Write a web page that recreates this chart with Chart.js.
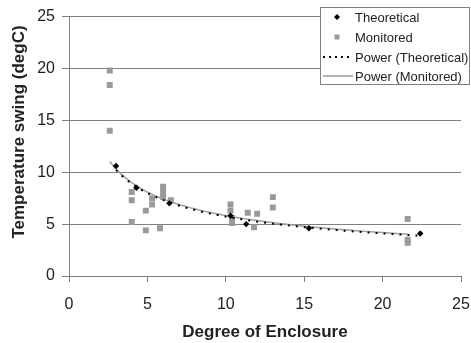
<!DOCTYPE html>
<html>
<head>
	<title>Temperature swing vs Degree of Enclosure</title>
	<style>
		body { margin: 0; background: #fff; }
		#wrap { width: 471px; height: 343px; }
	</style>
</head>
<body>
	<div id="wrap"><canvas id="chart" width="471" height="343"></canvas></div>

	<script src="https://cdn.jsdelivr.net/npm/chart.js@4/dist/chart.umd.min.js"></script>
	<script type="text/javascript">

		// values
		var theoX = [3.0, 4.3, 6.4, 10.3, 11.3, 15.3, 22.4];
		var theoY = [10.6, 8.5, 7.0, 5.8, 5.0, 4.6, 4.1];

		var monX = [2.6, 2.6, 2.6, 4.0, 4.0, 4.0, 4.9, 4.9, 5.3, 5.3, 5.8, 6.0, 6.0, 6.0, 6.5,
			10.3, 10.3, 10.4, 10.4, 11.4, 11.8, 12.0, 13.0, 13.0, 21.6, 21.6, 21.6];
		var monY = [19.8, 18.4, 14.0, 8.1, 7.3, 5.2, 6.3, 4.4, 7.5, 6.9, 4.6, 8.6, 8.1, 7.6, 7.3,
			6.9, 6.3, 5.6, 5.1, 6.1, 4.7, 6.0, 7.6, 6.6, 5.5, 3.5, 3.2];

		var xTicks = [0, 5, 10, 15, 20, 25];
		var yTicks = [0, 5, 10, 15, 20, 25];

		var seriesNames = ['Theoretical', 'Monitored', 'Power (Theoretical)', 'Power (Monitored)'];

		var FONT = "'Liberation Sans', Arial, sans-serif";

		function toPoints(xs, ys) {
			var pts = [];
			for (var i = 0; i < xs.length; i++) {
				pts.push({x: xs[i], y: ys[i]});
			}
			return pts;
		}

		// least squares fit of ln(y) on ln(x), like the spreadsheet power trendline
		function powerFit(xs, ys) {
			var n = xs.length, sx = 0, sy = 0, sxx = 0, sxy = 0;
			for (var i = 0; i < n; i++) {
				var lx = Math.log(xs[i]), ly = Math.log(ys[i]);
				sx += lx; sy += ly; sxx += lx * lx; sxy += lx * ly;
			}
			var b = (n * sxy - sx * sy) / (n * sxx - sx * sx);
			var a = Math.exp((sy - b * sx) / n);
			var lo = Math.min.apply(null, xs), hi = Math.max.apply(null, xs);
			var pts = [];
			var steps = 80;
			for (var k = 0; k <= steps; k++) {
				var x = lo + (hi - lo) * k / steps;
				pts.push({x: x, y: a * Math.pow(x, b)});
			}
			return pts;
		}

		// legend box + axis titles drawn like the original sheet
		var sheetDecor = {
			id: 'sheetDecor',
			afterDraw: function (chart) {
				var ctx = chart.ctx;
				ctx.save();

				// axis titles
				ctx.fillStyle = '#222';
				ctx.font = 'bold 17px ' + FONT;
				ctx.textAlign = 'center';
				ctx.textBaseline = 'middle';
				ctx.fillText('Degree of Enclosure', 265, 332);
				ctx.save();
				ctx.translate(19, 132);
				ctx.rotate(-Math.PI / 2);
				ctx.fillText('Temperature swing (degC)', 0, 0);
				ctx.restore();

				// legend
				var bx = 320.5, by = 7.5, bw = 149, bh = 77;
				ctx.fillStyle = '#fff';
				ctx.fillRect(bx, by, bw, bh);
				ctx.strokeStyle = '#808080';
				ctx.lineWidth = 1;
				ctx.strokeRect(bx, by, bw, bh);

				ctx.font = '13px ' + FONT;
				ctx.textAlign = 'left';
				ctx.textBaseline = 'middle';
				var rows = [17, 37, 57, 76];
				for (var i = 0; i < seriesNames.length; i++) {
					var y = rows[i];
					if (i === 0) {
						ctx.fillStyle = '#000';
						ctx.beginPath();
						ctx.moveTo(337, y - 3); ctx.lineTo(340, y); ctx.lineTo(337, y + 3); ctx.lineTo(334, y);
						ctx.closePath();
						ctx.fill();
					} else if (i === 1) {
						ctx.fillStyle = '#9a9a9a';
						ctx.fillRect(334.5, y - 2.5, 5, 5);
					} else if (i === 2) {
						ctx.strokeStyle = '#000';
						ctx.lineWidth = 2;
						ctx.setLineDash([2, 4]);
						ctx.beginPath(); ctx.moveTo(323, y); ctx.lineTo(353, y); ctx.stroke();
						ctx.setLineDash([]);
					} else {
						ctx.strokeStyle = '#9a9a9a';
						ctx.lineWidth = 1.5;
						ctx.beginPath(); ctx.moveTo(323, y); ctx.lineTo(353, y); ctx.stroke();
					}
					ctx.fillStyle = '#222';
					ctx.fillText(seriesNames[i], 355, y + 1);
				}
				ctx.restore();
			}
		};

		window.onload = function () {
			new Chart('chart', {
				type: 'scatter',
				data: {
					datasets: [
						{
							label: seriesNames[0],
							data: toPoints(theoX, theoY),
							pointStyle: 'rectRot',
							pointRadius: 3.2,
							backgroundColor: '#000',
							borderColor: '#000',
							borderWidth: 0,
							order: 0
						},
						{
							label: seriesNames[1],
							data: toPoints(monX, monY),
							pointStyle: 'rect',
							pointRadius: 4.2,
							backgroundColor: '#9a9a9a',
							borderColor: '#9a9a9a',
							borderWidth: 0,
							order: 3
						},
						{
							label: seriesNames[2],
							type: 'line',
							data: powerFit(theoX, theoY),
							borderColor: '#000',
							borderWidth: 2,
							borderDash: [2, 6],
							pointRadius: 0,
							fill: false,
							order: 1
						},
						{
							label: seriesNames[3],
							type: 'line',
							data: powerFit(monX, monY),
							borderColor: '#a0a0a0',
							borderWidth: 1.5,
							pointRadius: 0,
							fill: false,
							order: 2
						}
					]
				},
				options: {
					responsive: false,
					animation: false,
					layout: { padding: { top: 15, right: 0, left: 0, bottom: 0 } },
					plugins: {
						legend: { display: false },
						tooltip: { enabled: false }
					},
					scales: {
						x: {
							type: 'linear',
							min: 0, max: 25,
							afterBuildTicks: function (s) { s.ticks = xTicks.map(function (v) { return {value: v}; }); },
							afterFit: function (s) { s.height = 67; s.paddingRight = 10; },
							grid: { drawOnChartArea: false, color: '#808080', tickLength: 6 },
							border: { color: '#808080' },
							ticks: { color: '#222', font: { family: FONT, size: 16 }, padding: 13 }
						},
						y: {
							type: 'linear',
							min: 0, max: 25,
							afterBuildTicks: function (s) { s.ticks = yTicks.map(function (v) { return {value: v}; }); },
							afterFit: function (s) { s.width = 69; },
							grid: { color: '#808080', tickLength: 7 },
							border: { color: '#808080' },
							ticks: { color: '#222', font: { family: FONT, size: 16 }, padding: 7 }
						}
					}
				},
				plugins: [sheetDecor]
			});
		};

	</script>
</body>
</html>
